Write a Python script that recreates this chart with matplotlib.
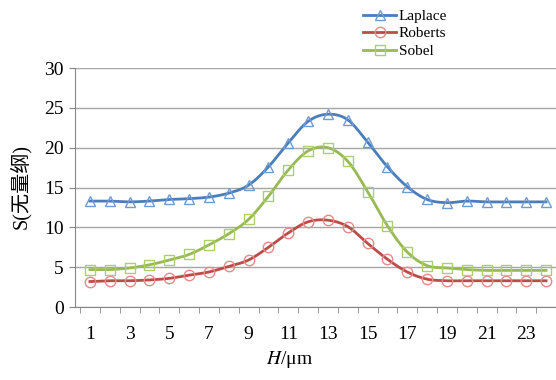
import numpy as np
import matplotlib
matplotlib.use('Agg')
import matplotlib.pyplot as plt
from matplotlib.lines import Line2D

plt.rcParams['font.family'] = ['Liberation Serif', 'DejaVu Serif']
plt.rcParams['mathtext.fontset'] = 'stix'

h = np.arange(1, 25)
laplace = [13.3, 13.3, 13.2, 13.3, 13.5, 13.6, 13.8, 14.3, 15.3, 17.6, 20.6, 23.3,
           24.2, 23.5, 20.7, 17.6, 15.1, 13.5, 13.1, 13.3, 13.2, 13.2, 13.2, 13.2]
roberts = [3.2, 3.3, 3.3, 3.4, 3.6, 4.0, 4.4, 5.1, 5.9, 7.5, 9.3, 10.7,
           10.9, 10.1, 8.0, 6.0, 4.4, 3.5, 3.3, 3.3, 3.3, 3.3, 3.3, 3.3]
sobel = [4.7, 4.7, 4.9, 5.3, 5.9, 6.6, 7.8, 9.2, 11.0, 13.9, 17.2, 19.6,
         20.0, 18.3, 14.5, 10.2, 6.9, 5.2, 4.9, 4.7, 4.6, 4.6, 4.6, 4.6]
names = ['Laplace', 'Roberts', 'Sobel']
x_labels = [str(i) for i in range(1, 24, 2)]

line_colors = ['#4a7ebb', '#be4b48', '#98b954']
edge_colors = ['#6f9bd3', '#e48a88', '#a9d06a']
markers = ['^', 'o', 's']


def smooth(x, y, n=12):
    # catmull-rom through the points, like Excel's smoothed lines
    x = np.asarray(x, float)
    y = np.asarray(y, float)
    px = np.concatenate([[2 * x[0] - x[1]], x, [2 * x[-1] - x[-2]]])
    py = np.concatenate([[2 * y[0] - y[1]], y, [2 * y[-1] - y[-2]]])
    xs, ys = [], []
    t = np.linspace(0, 1, n, endpoint=False)
    for i in range(1, len(px) - 2):
        for p, out in ((px, xs), (py, ys)):
            p0, p1, p2, p3 = p[i - 1], p[i], p[i + 1], p[i + 2]
            out.extend(0.5 * (2 * p1 + (-p0 + p2) * t + (2 * p0 - 5 * p1 + 4 * p2 - p3) * t ** 2
                              + (-p0 + 3 * p1 - 3 * p2 + p3) * t ** 3))
    xs.append(x[-1])
    ys.append(y[-1])
    return np.array(xs), np.array(ys)


fig = plt.figure(figsize=(5.56, 3.8), dpi=100)
ax = fig.add_axes([0.135, 0.192, 0.865, 0.629])

handles = []
for vals, lc, ec, m, name in zip([laplace, roberts, sobel], line_colors, edge_colors, markers, names):
    sx, sy = smooth(h, vals)
    ax.plot(sx, sy, color=lc, lw=2.0, zorder=3)
    ax.plot(h, vals, ls='none', marker=m, ms=7.5, mfc='none', mec=ec, mew=1.0, zorder=4)
    handles.append(Line2D([], [], color=lc, lw=2.0, marker=m, ms=7.5, mfc='none', mec=ec, mew=1.0))

ax.set_xlim(0.25, 24.45)
ax.set_ylim(0, 30)
ax.set_yticks(range(0, 31, 5))
ax.set_xticks(range(1, 24, 2))
ax.set_xticklabels(x_labels)
ax.set_xticks(np.arange(0.5, 24.6, 1), minor=True)
ax.tick_params(axis='x', which='major', length=0, pad=14, labelsize=14)
ax.tick_params(axis='x', which='minor', length=4, color='#868686', direction='out')
ax.tick_params(axis='y', length=4, color='#868686', pad=4, labelsize=14)

ax.grid(axis='y', color='#a6a6a6', lw=1)
ax.set_axisbelow(True)
for s in ['top', 'right']:
    ax.spines[s].set_visible(False)
ax.spines['left'].set_color('#868686')
ax.spines['bottom'].set_color('#868686')

fig.text(0.52, 0.053, r'$H$/μm', ha='center', va='center', fontsize=14)
fig.text(0.036, 0.51, 'S(无量纲)', rotation=90, ha='center', va='center', fontsize=14.5,
         family=['Liberation Serif', 'Noto Sans CJK SC'])

fig.legend(handles, names, loc='upper left', bbox_to_anchor=(0.636, 1.0), frameon=False,
           fontsize=11, handlelength=2.2, handletextpad=0.15, labelspacing=0.25, borderaxespad=0.2)

fig.savefig('out.png', dpi=100)
